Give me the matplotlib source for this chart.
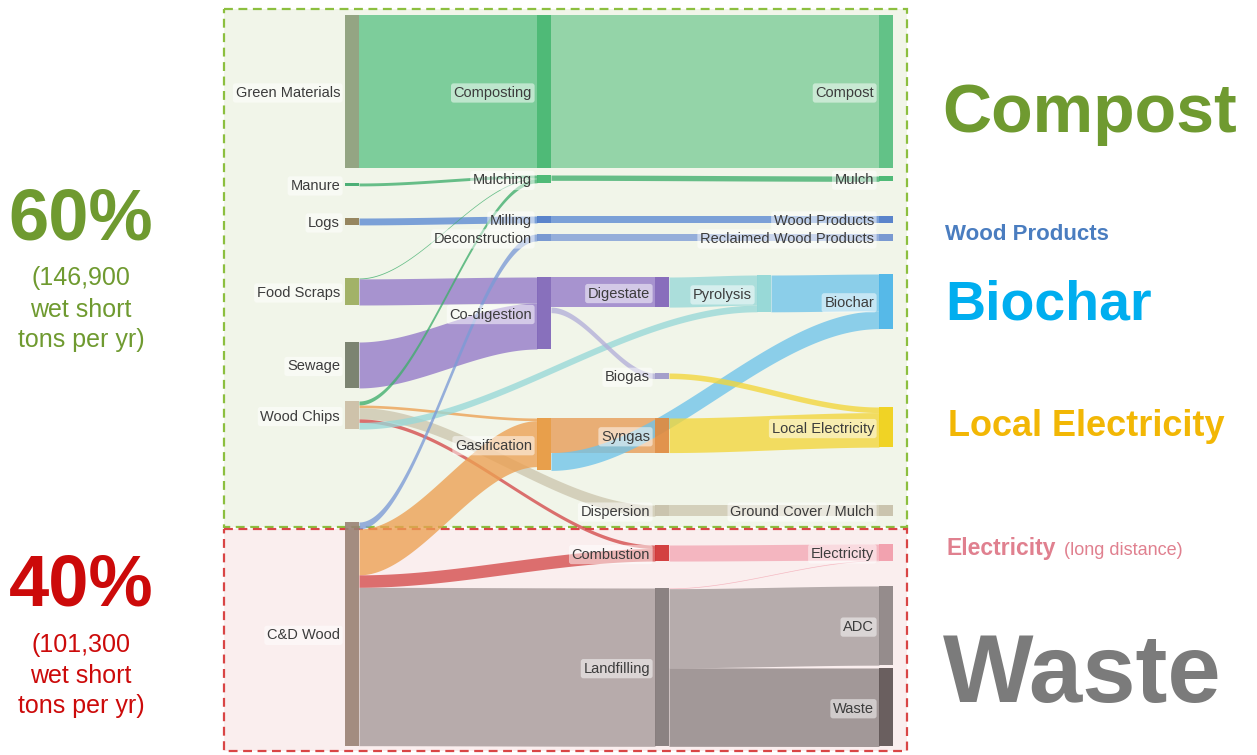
import numpy as np
import matplotlib
matplotlib.use("Agg")
import matplotlib.pyplot as plt
from matplotlib.patches import Rectangle

plt.rcParams['font.family'] = ['Liberation Sans', 'DejaVu Sans']

# ----------------------------- data -----------------------------
# flows in thousand wet short tons per year (read from band widths)
flow_sources = [
    "Green Materials", "Manure", "Logs", "Food Scraps", "Food Scraps", "Sewage",
    "Wood Chips", "Wood Chips", "Wood Chips", "Wood Chips", "Wood Chips",
    "C&D Wood", "C&D Wood", "C&D Wood", "C&D Wood",
    "Composting", "Mulching", "Milling", "Deconstruction",
    "Co-digestion", "Co-digestion", "Gasification", "Gasification",
    "Digestate", "Pyrolysis", "Biogas", "Syngas", "Dispersion",
    "Combustion", "Landfilling", "Landfilling", "Landfilling",
]
flow_targets = [
    "Composting", "Mulching", "Milling", "Mulching", "Co-digestion", "Co-digestion",
    "Mulching", "Gasification", "Dispersion", "Combustion", "Pyrolysis",
    "Deconstruction", "Gasification", "Combustion", "Landfilling",
    "Compost", "Mulch", "Wood Products", "Reclaimed Wood Products",
    "Digestate", "Biogas", "Syngas", "Biochar",
    "Pyrolysis", "Biochar", "Local Electricity", "Local Electricity", "Ground Cover / Mulch",
    "Electricity", "Electricity", "ADC", "Waste",
]
flow_values = [
    68.6, 1.3, 3.1, 0.4, 11.7, 20.6,
    1.8, 1.2, 5.0, 1.6, 3.0,
    3.1, 20.6, 5.6, 71.0,
    68.6, 2.4, 3.1, 3.1,
    13.5, 2.5, 15.5, 8.0,
    13.5, 16.5, 2.5, 15.5, 5.0,
    7.2, 0.3, 35.5, 35.2,
]

big_labels = ["Compost", "Wood Products", "Biochar", "Local Electricity", "Electricity", "Waste"]
big_note = "(long distance)"
share_labels = ["60%", "40%"]
share_notes = [["(146,900", "wet short", "tons per yr)"],
               ["(101,300", "wet short", "tons per yr)"]]

# ----------------------------- layout / style -----------------------------
PX_PER_KT = 2.23
col_x = [345, 537, 655, 757, 879]
NODE_W = 14
node_layout = {
    "Green Materials": (0, 15), "Manure": (0, 183), "Logs": (0, 218),
    "Food Scraps": (0, 278), "Sewage": (0, 342), "Wood Chips": (0, 401),
    "C&D Wood": (0, 522),
    "Composting": (1, 15), "Mulching": (1, 175), "Milling": (1, 216),
    "Deconstruction": (1, 234), "Co-digestion": (1, 277), "Gasification": (1, 418),
    "Digestate": (2, 277), "Biogas": (2, 373), "Syngas": (2, 418),
    "Dispersion": (2, 505), "Combustion": (2, 545), "Landfilling": (2, 588),
    "Pyrolysis": (3, 275),
    "Compost": (4, 15), "Mulch": (4, 176), "Wood Products": (4, 216),
    "Reclaimed Wood Products": (4, 234), "Biochar": (4, 274),
    "Local Electricity": (4, 407), "Ground Cover / Mulch": (4, 505),
    "Electricity": (4, 544), "ADC": (4, 586), "Waste": (4, 668),
}
node_color = {
    "Green Materials": "#8a9d78", "Manure": "#3aa86a", "Logs": "#8c7a50",
    "Food Scraps": "#9aab5a", "Sewage": "#6f7864", "Wood Chips": "#cbbda4",
    "C&D Wood": "#9a8274",
    "Composting": "#3db46b", "Mulching": "#3db46b", "Milling": "#4a78c8",
    "Deconstruction": "#6c8fcf", "Co-digestion": "#7d62b8", "Gasification": "#e8963a",
    "Digestate": "#7d5fb8", "Biogas": "#9c96c8", "Syngas": "#e0893c",
    "Dispersion": "#c6bfa8", "Combustion": "#cf2e2e", "Landfilling": "#7f7676",
    "Pyrolysis": "#8fd6d6",
    "Compost": "#52bd7c", "Mulch": "#3db46b", "Wood Products": "#4a78c8",
    "Reclaimed Wood Products": "#6c8fcf", "Biochar": "#45b3e8",
    "Local Electricity": "#f0d010", "Ground Cover / Mulch": "#c6bfa8",
    "Electricity": "#f29aa8", "ADC": "#8a8282", "Waste": "#5a5050",
}
flow_color = {
    "Composting": "#5cc286", "Mulching": "#3fae6c", "Milling": "#5a88d2",
    "Deconstruction": "#7b9bd6", "Co-digestion": "#9278c8", "Gasification": "#eca052",
    "Digestate": "#9278c8", "Biogas": "#b3afd9", "Syngas": "#e89a55",
    "Dispersion": "#cdc6ae", "Combustion": "#d44a4a", "Landfilling": "#a59999",
    "Pyrolysis": "#98d8d8",
    "Compost": "#7acb96", "Mulch": "#3fae6c", "Wood Products": "#5a88d2",
    "Reclaimed Wood Products": "#7b9bd6", "Biochar": "#6fc3ea",
    "Local Electricity": "#f3d63a", "Ground Cover / Mulch": "#cdc6ae",
    "Electricity": "#f3a7b3", "ADC": "#a39a9a", "Waste": "#8a8080",
}

fig = plt.figure(figsize=(12.57, 7.55), dpi=100)
ax = fig.add_axes([0, 0, 1, 1])
ax.set_xlim(0, 1257)
ax.set_ylim(755, 0)
ax.axis("off")

# region boxes
ax.add_patch(Rectangle((224, 9), 683, 518, facecolor="#f1f5e9", edgecolor="#8cbf3f",
                       lw=1.6, ls=(0, (4, 2.5)), zorder=0))
ax.add_patch(Rectangle((224, 529), 683, 222, facecolor="#faeeee", edgecolor="#d94545",
                       lw=1.6, ls=(0, (4, 2.5)), zorder=0))

# node sizes
nodes = list(node_layout.keys())
v_in = {n: 0.0 for n in nodes}
v_out = {n: 0.0 for n in nodes}
for s, t, v in zip(flow_sources, flow_targets, flow_values):
    v_out[s] += v
    v_in[t] += v
node_h = {n: max(v_in[n], v_out[n]) * PX_PER_KT for n in nodes}
node_x = {n: col_x[node_layout[n][0]] for n in nodes}
node_top = {n: node_layout[n][1] for n in nodes}

# flow positions
out_off = {n: 0.0 for n in nodes}
in_off = {n: 0.0 for n in nodes}
idx = list(range(len(flow_values)))
src_y = {}
for i in idx:
    s = flow_sources[i]
    src_y[i] = node_top[s] + out_off[s]
    out_off[s] += flow_values[i] * PX_PER_KT
tgt_y = {}
for i in sorted(idx, key=lambda k: (node_top[flow_sources[k]], k)):
    t = flow_targets[i]
    tgt_y[i] = node_top[t] + in_off[t]
    in_off[t] += flow_values[i] * PX_PER_KT

for i in idx:
    s, t = flow_sources[i], flow_targets[i]
    w = flow_values[i] * PX_PER_KT
    x0 = node_x[s] + NODE_W
    x1 = node_x[t]
    xs = np.linspace(x0, x1, 120)
    tt = (xs - x0) / (x1 - x0)
    sm = tt * tt * (3 - 2 * tt)
    top = src_y[i] + (tgt_y[i] - src_y[i]) * sm
    ax.fill_between(xs, top, top + w, color=flow_color[t], alpha=0.78, lw=0, zorder=2)

for n in nodes:
    ax.add_patch(Rectangle((node_x[n], node_top[n]), NODE_W, node_h[n],
                           facecolor=node_color[n], edgecolor="none", alpha=0.9, zorder=3))
    ax.text(node_x[n] - 5, node_top[n] + node_h[n] / 2 + 1.5, n, ha="right", va="center",
            fontsize=10.5, color="#3c3c3c", zorder=5,
            bbox=dict(boxstyle="round,pad=0.18", fc="white", ec="none", alpha=0.5))

# left shares
share_colors = ["#6f9a30", "#cc0a0a"]
share_base = [240, 605]
note_base = [[285, 317, 347], [652, 683, 713]]
for lab, notes, c, yb, nb in zip(share_labels, share_notes, share_colors, share_base, note_base):
    ax.text(81, yb, lab, ha="center", va="baseline", fontsize=52, fontweight="bold", color=c)
    for line, y in zip(notes, nb):
        ax.text(81, y, line, ha="center", va="baseline", fontsize=18, color=c)

# right big labels
big_colors = ["#6f9a30", "#4a7dc0", "#00aeef", "#f2b705", "#e0808f", "#7b7b7b"]
big_sizes = [49, 16, 40, 26, 16.5, 69]
big_x = [942, 945, 945, 948, 947, 943]
big_base = [132, 240, 320, 436, 555, 702]
for lab, c, fs, x, y in zip(big_labels, big_colors, big_sizes, big_x, big_base):
    ax.text(x, y, lab, ha="left", va="baseline", fontsize=fs, fontweight="bold", color=c)
ax.text(1064, 555, big_note, ha="left", va="baseline", fontsize=13, color="#e0808f")

fig.savefig("out.png", dpi=100)
